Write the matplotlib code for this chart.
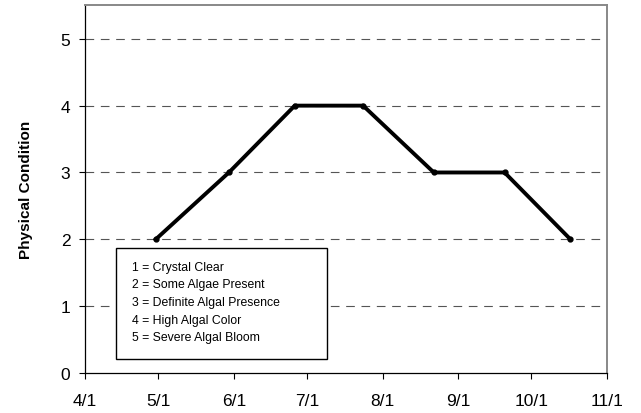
import datetime as dt
import matplotlib
matplotlib.use('Agg')
import matplotlib.pyplot as plt
import matplotlib.dates as mdates
from matplotlib.patches import Rectangle

plt.rcParams['font.family'] = ['Liberation Sans', 'DejaVu Sans']

# dates sampled and physical condition ratings
dates = ['2005-04-30', '2005-05-30', '2005-06-26', '2005-07-24',
         '2005-08-22', '2005-09-20', '2005-10-17']
condition = [2, 3, 4, 4, 3, 3, 2]
tick_dates = ['2005-04-01', '2005-05-01', '2005-06-01', '2005-07-01',
              '2005-08-01', '2005-09-01', '2005-10-01', '2005-11-01']
scale_labels = ['1 = Crystal Clear', '2 = Some Algae Present',
                '3 = Definite Algal Presence', '4 = High Algal Color',
                '5 = Severe Algal Bloom']

x = [dt.datetime.strptime(d, '%Y-%m-%d') for d in dates]
xt = [dt.datetime.strptime(d, '%Y-%m-%d') for d in tick_dates]

fig = plt.figure(figsize=(6.41, 4.14), dpi=100)
ax = fig.add_axes([0.1326, 0.0966, 0.8144, 0.888])

for v in range(1, 6):
    ax.axhline(v, color='#555555', linestyle=(0, (7.8, 6)), linewidth=0.8, zorder=1)

ax.plot(x, condition, color='black', linewidth=2.8, marker='o', markersize=3.5,
        solid_joinstyle='miter', zorder=3)

ax.set_xlim(xt[0], xt[-1])
ax.set_ylim(0, 5.5)
ax.set_xticks(xt)
ax.xaxis.set_major_formatter(plt.FuncFormatter(
    lambda v, p: '%d/%d' % (mdates.num2date(v).month, mdates.num2date(v).day)))
ax.set_yticks(range(0, 6))
ax.tick_params(axis='both', labelsize=12.5, length=4.5, width=0.8, direction='out')
ax.tick_params(axis='x', pad=10)
ax.tick_params(axis='y', pad=6)

for s in ['left', 'bottom']:
    ax.spines[s].set_color('black')
    ax.spines[s].set_linewidth(0.9)
for s in ['top', 'right']:
    ax.spines[s].set_color('#888888')
    ax.spines[s].set_linewidth(1.4)

ax.set_ylabel('Physical Condition', fontsize=11, fontweight='bold', labelpad=20)

# scale key box
ax.add_patch(Rectangle((0.059, 0.038), 0.405, 0.302, transform=ax.transAxes,
                       facecolor='white', edgecolor='black', linewidth=1.0, zorder=4))
ax.text(0.09, 0.305, '\n'.join(scale_labels), transform=ax.transAxes,
        fontsize=8.8, va='top', ha='left', linespacing=1.62, zorder=5)

fig.savefig('out.png', dpi=100)
